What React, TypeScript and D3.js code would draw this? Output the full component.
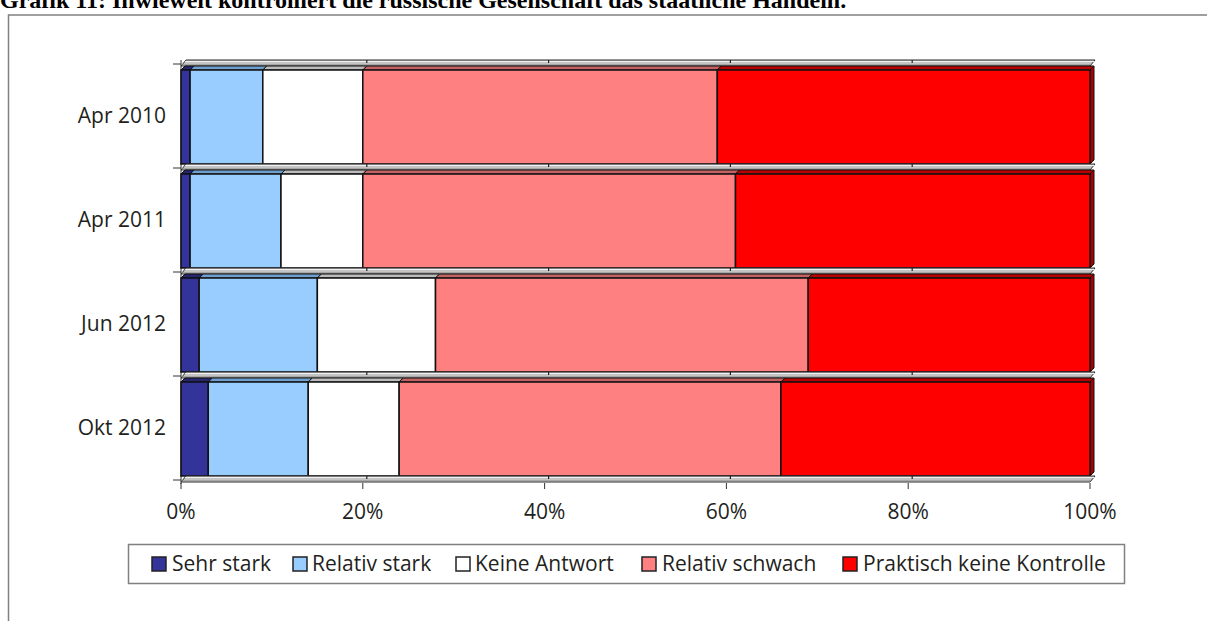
import React from "react";
import * as d3 from "d3";

const categories = ["Apr 2010", "Apr 2011", "Jun 2012", "Okt 2012"];
const seriesNames = ["Sehr stark", "Relativ stark", "Keine Antwort", "Relativ schwach", "Praktisch keine Kontrolle"];
const sehrStark = [1, 1, 2, 3];
const relativStark = [8, 10, 13, 11];
const keineAntwort = [11, 9, 13, 10];
const relativSchwach = [39, 41, 41, 42];
const praktischKeine = [41, 39, 31, 34];
const xTicks = [0, 20, 40, 60, 80, 100];
const frontColors = ["#333399", "#99CCFF", "#FFFFFF", "#FF8080", "#FF0000"];
const topColors = ["#26266f", "#6f9fcf", "#bdbdbd", "#c26262", "#b80000"];
const title = "Grafik 11: Inwieweit kontrolliert die russische Gesellschaft das staatliche Handeln.";

const FONT = "'Open Sans', 'Noto Sans', sans-serif";

export default function App() {
  const W = 1207, H = 621;
  const x = d3.scaleLinear().domain([0, 100]).range([181, 1090]);
  const y = d3.scaleBand<string>().domain(categories).range([64, 480]).padding(0);
  const step = y.step();
  const series = [sehrStark, relativStark, keineAntwort, relativSchwach, praktischKeine];
  const rows = categories.map((c, i) => ({ c, vals: series.map(s => s[i]) }));
  const stack = d3.stack<any>().keys(seriesNames).value((d: any, key: string) => d.vals[seriesNames.indexOf(key)]);
  const stacked = stack(rows as any);
  const D = 4; // depth
  const boundaries = [...categories.map(c => y(c)!), 480];

  const strip = (t: number, key: string) => {
    const x0 = x(0), x1 = x(100);
    const pts = [[x0, t + 2], [x1, t + 2], [x1 + 5, t - 4], [x0 + 5, t - 4]];
    return (
      <g key={key}>
        <polygon points={pts.map(p => p.join(",")).join(" ")} fill="#c4c4c4" stroke="#2b2b2b" strokeWidth={1} />
        <line x1={x0 + 4} x2={x1 + 4} y1={t - 2.5} y2={t - 2.5} stroke="#f2f2f2" strokeWidth={1.2} />
        <line x1={x0 + 1} x2={x1} y1={t + 1} y2={t + 1} stroke="#8a8a8a" strokeWidth={1} />
        {xTicks.slice(1, 5).map(v => (
          <line key={v} x1={x(v) + 4} x2={x(v) + 4} y1={t - 4} y2={t - 1} stroke="#222" strokeWidth={1.2} />
        ))}
      </g>
    );
  };

  const legendItems = [
    { x: 152, tx: 172 },
    { x: 293, tx: 312 },
    { x: 456, tx: 475 },
    { x: 642, tx: 662 },
    { x: 843, tx: 863 },
  ];

  return (
    <svg width={W} height={H} style={{ position: "absolute", left: 0, top: 0, background: "#fff" }}>
      <text x={0} y={8} fontFamily="'Liberation Serif', 'Times New Roman', serif" fontWeight="bold" fontSize={24} fill="#000">{title}</text>
      <rect x={8.5} y={15} width={1250} height={700} fill="none" stroke="#808080" strokeWidth={1.5} />
      {/* left axis */}
      <line x1={181} x2={181} y1={60} y2={484} stroke="#333" strokeWidth={1} />
      {boundaries.map((t, i) => (
        <line key={i} x1={173} x2={181} y1={t} y2={t} stroke="#333" strokeWidth={1} />
      ))}
      {categories.map((c, i) => {
        const t = y(c)!;
        const top = t + 6, bot = t + step - 4;
        return (
          <g key={c}>
            {strip(t, "s" + i)}
            {stacked.map((s, k) => {
              const [v0, v1] = s[i] as any;
              const a = x(v0), b = x(v1);
              const isLast = k === stacked.length - 1;
              return (
                <g key={k}>
                  <polygon points={`${a},${top} ${b},${top} ${b + D},${top - D} ${a + D},${top - D}`} fill={topColors[k]} stroke="#111" strokeWidth={1} />
                  {isLast && (
                    <polygon points={`${b},${top} ${b + D},${top - D} ${b + D},${bot - D} ${b},${bot}`} fill="#a80000" stroke="#111" strokeWidth={1} />
                  )}
                  <rect x={a} y={top} width={b - a} height={bot - top} fill={frontColors[k]} stroke="#111" strokeWidth={1.5} />
                </g>
              );
            })}
            <text x={166} y={t + step / 2 + 1} textAnchor="end" dominantBaseline="middle" fontFamily={FONT} fontSize={21} fill="#231f20">{c}</text>
          </g>
        );
      })}
      {strip(480, "sb")}
      {xTicks.map(v => (
        <g key={v}>
          <line x1={x(v)} x2={x(v)} y1={483} y2={489} stroke="#333" strokeWidth={1} />
          <text x={x(v)} y={519} textAnchor="middle" fontFamily={FONT} fontSize={21} fill="#231f20">{v}%</text>
        </g>
      ))}
      {/* legend */}
      <rect x={128.5} y={544.5} width={996} height={39} fill="#fff" stroke="#808080" strokeWidth={1.5} />
      {seriesNames.map((n, k) => (
        <g key={n}>
          <rect x={legendItems[k].x} y={557} width={14} height={14} fill={frontColors[k]} stroke="#222" strokeWidth={1.5} />
          <text x={legendItems[k].tx} y={571} fontFamily={FONT} fontSize={21} fill="#231f20">{n}</text>
        </g>
      ))}
    </svg>
  );
}
